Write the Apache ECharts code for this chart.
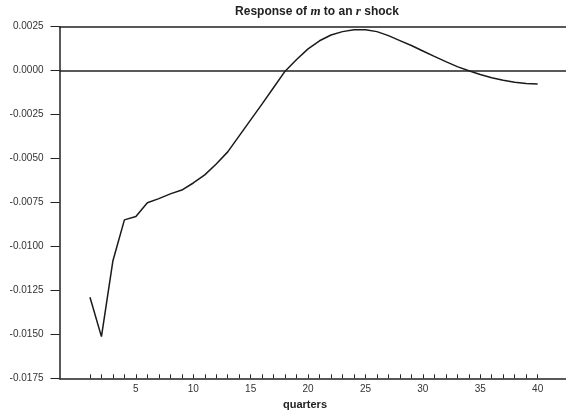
<!DOCTYPE html>
<html>
<head>
<meta charset="utf-8">
<style>
  html, body { margin: 0; padding: 0; background: #ffffff; }
  #chart { width: 566px; height: 415px; }
</style>
<script src="https://cdn.jsdelivr.net/npm/echarts@6/dist/echarts.min.js"></script>
</head>
<body>
<div id="chart"></div>
<script>
// Impulse response of money (m) to an interest-rate (r) shock, by quarter
const quarters = [1,2,3,4,5,6,7,8,9,10,11,12,13,14,15,16,17,18,19,20,
                  21,22,23,24,25,26,27,28,29,30,31,32,33,34,35,36,37,38,39,40];
const response = [-0.01289,-0.01513,-0.01081,-0.00849,-0.00830,-0.00751,-0.00728,-0.00701,-0.00679,-0.00639,
                  -0.00593,-0.00531,-0.00462,-0.00371,-0.00280,-0.00189,-0.00096,-0.00003,0.00063,0.00124,
                  0.00170,0.00203,0.00222,0.00232,0.00233,0.00222,0.00199,0.00171,0.00143,0.00112,
                  0.00081,0.00051,0.00023,-0.00001,-0.00022,-0.00040,-0.00055,-0.00066,-0.00073,-0.00076];
const xLabelValues = [5,10,15,20,25,30,35,40];
const zeroLevel = [0];

const chart = echarts.init(document.getElementById('chart'), null, { renderer: 'canvas' });

const labelFont = { fontFamily: 'Liberation Sans, Arial, sans-serif', fontSize: 10, color: '#333333' };
const axisColor = '#222222';

chart.setOption({
  animation: false,
  backgroundColor: '#ffffff',
  title: {
    text: '{b|Response of }{i|m}{b| to an }{i|r}{b| shock}',
    left: 312, top: 0, textAlign: 'center',
    textStyle: {
      rich: {
        b: { fontFamily: 'Liberation Sans, Arial, sans-serif', fontWeight: 'bold', fontSize: 12, color: '#222222' },
        i: { fontFamily: 'Liberation Serif, Times New Roman, serif', fontStyle: 'italic', fontSize: 13, color: '#222222' }
      }
    }
  },
  graphic: [{
    type: 'text', left: 283, top: 399,
    style: { text: 'quarters', x: 0, align: 'center', fontFamily: 'Liberation Sans, Arial, sans-serif',
             fontWeight: 'bold', fontSize: 11, fill: '#222222' }
  }],
  grid: { left: 59.5, right: 0, top: 26.7, bottom: 36.7, containLabel: false },
  xAxis: [{
    type: 'value', min: -1.655, max: 42.47,
    axisLine: { show: true, onZero: false, lineStyle: { color: axisColor, width: 1.5 } },
    axisTick: { show: true, inside: true, length: 4, customValues: quarters,
                lineStyle: { color: axisColor, width: 1 } },
    axisLabel: Object.assign({ customValues: xLabelValues, margin: 6 }, labelFont),
    splitLine: { show: false }
  }, {
    // upper frame line at the top of the value range
    type: 'value', position: 'top', min: -1.655, max: 42.47,
    axisLine: { show: true, onZero: false, lineStyle: { color: axisColor, width: 1.5 } },
    axisTick: { show: false }, axisLabel: { show: false }, splitLine: { show: false }
  }],
  yAxis: {
    type: 'value', min: -0.0175, max: 0.0025, interval: 0.0025,
    axisLine: { show: true, onZero: false, lineStyle: { color: axisColor, width: 1.5 } },
    axisTick: { show: true, inside: false, length: 9, lineStyle: { color: axisColor, width: 1 } },
    axisLabel: Object.assign({ margin: 16, formatter: v => v.toFixed(4) }, labelFont),
    splitLine: { show: false }
  },
  series: [{
    type: 'line',
    data: quarters.map((q, i) => [q, response[i]]),
    showSymbol: false,
    smooth: false,
    lineStyle: { color: '#1a1a1a', width: 1.5 },
    markLine: {
      silent: true, symbol: 'none', label: { show: false },
      lineStyle: { color: axisColor, width: 1.5, type: 'solid' },
      data: zeroLevel.map(v => ({ yAxis: v }))
    }
  }]
});
</script>
</body>
</html>
